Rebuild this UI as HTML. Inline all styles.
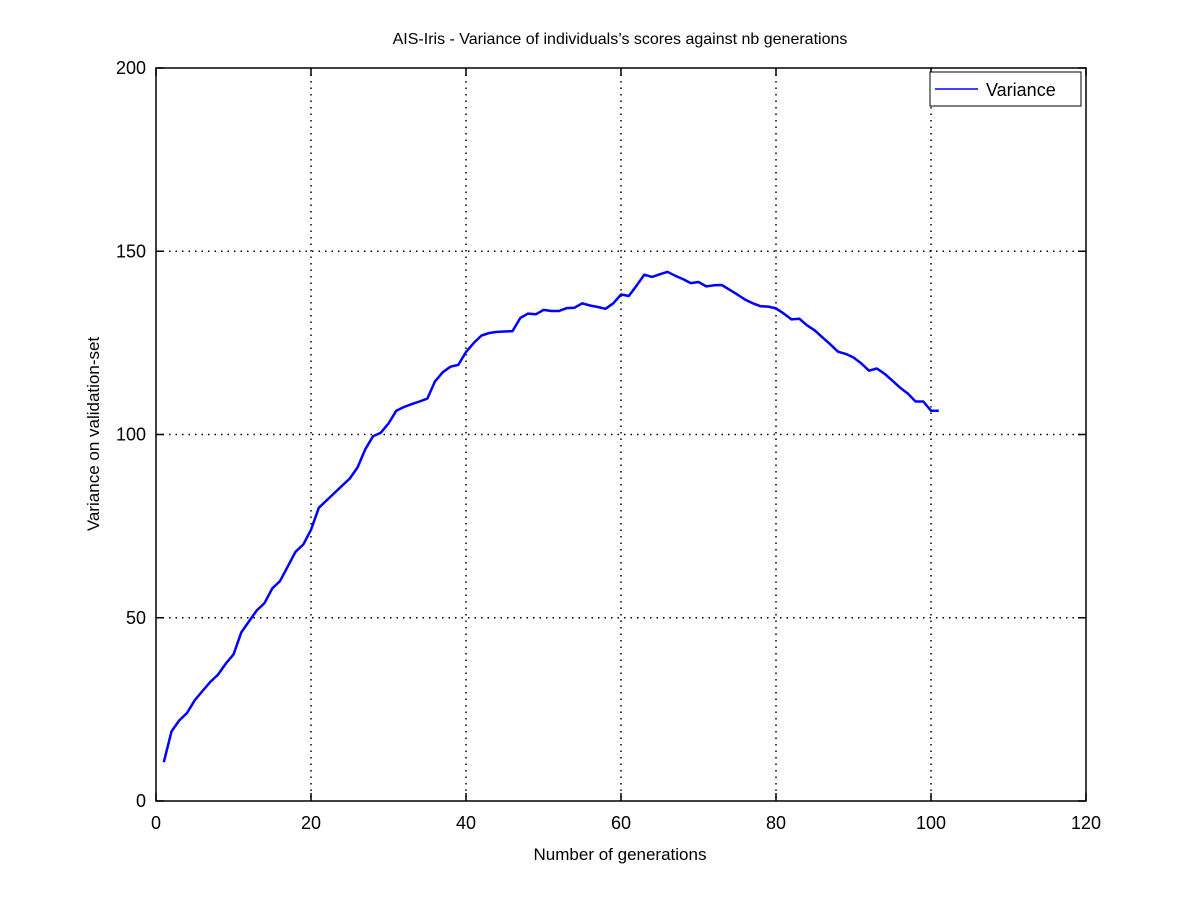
<!DOCTYPE html>
<html><head><meta charset="utf-8"><style>
body{margin:0;background:#fff;}
svg{display:block;font-family:"Liberation Sans",sans-serif;}
</style></head><body>
<svg id="chart" width="1200" height="900">
<rect x="0" y="0" width="1200" height="900" fill="#fff"/>
<text x="620" y="44" font-size="16" text-anchor="middle">AIS-Iris - Variance of individuals’s scores against nb generations</text>
<g id="grid"></g>
<g id="ticks"></g>
<path id="line" fill="none" stroke="#0000ff" stroke-width="2.5" stroke-linejoin="round"/>
<rect x="156" y="68" width="930" height="733" fill="none" stroke="#000" stroke-width="1.5"/>
<text x="620" y="860" font-size="17" text-anchor="middle">Number of generations</text>
<text x="0" y="0" font-size="17" text-anchor="middle" transform="translate(99,434) rotate(-90)">Variance on validation-set</text>
<g>
<rect x="930" y="72" width="151" height="34" fill="#fff" stroke="#000" stroke-width="1"/>
<line x1="935" y1="89" x2="978" y2="89" stroke="#0000ff" stroke-width="1.5"/>
<text x="986" y="96" font-size="18">Variance</text>
</g>
</svg>
<script>
const xTicks=[0,20,40,60,80,100,120];
const yTicks=[0,50,100,150,200];
const generations=[];for(let i=1;i<=101;i++)generations.push(i);
const variance=[10.6,19,22,24,27.5,30,32.5,34.5,37.5,40,46,49,52,54,58,60,64,68,70,74,80,82,84,86,88,91,96,99.5,100.5,103,106.5,107.5,108.3,109,109.8,114.5,117,118.5,119,122.5,125,127,127.7,128,128.1,128.2,131.8,133,132.8,134,133.7,133.7,134.5,134.6,135.8,135.2,134.8,134.3,135.8,138.2,137.8,140.6,143.6,143,143.7,144.4,143.3,142.4,141.3,141.6,140.4,140.7,140.8,139.5,138.2,136.8,135.8,135,134.9,134.4,133,131.4,131.6,129.8,128.4,126.5,124.6,122.6,122,121,119.4,117.4,118,116.6,114.7,112.8,111.2,109,109,106.5,106.5];
const X0=156,X1=1086,Y0=801,Y1=68;
const sx=v=>X0+(v-0)/120*(X1-X0);
const sy=v=>Y0-(v-0)/200*(Y0-Y1);
const NS="http://www.w3.org/2000/svg";
const grid=document.getElementById('grid'),ticks=document.getElementById('ticks');
function mk(tag,attrs,parent){const e=document.createElementNS(NS,tag);for(const k in attrs)e.setAttribute(k,attrs[k]);parent.appendChild(e);return e;}
xTicks.forEach(t=>{
  const x=sx(t);
  if(t>0&&t<120){const g=mk('line',{x1:x,y1:Y1,x2:x,y2:Y0,stroke:'#000','stroke-width':1.5,'stroke-dasharray':'1.5,5'},grid);
  
  }
  mk('line',{x1:x,y1:Y0,x2:x,y2:Y0-8,stroke:'#000','stroke-width':1.5},ticks);
  mk('line',{x1:x,y1:Y1,x2:x,y2:Y1+8,stroke:'#000','stroke-width':1.5},ticks);
  const l=mk('text',{x:x,y:Y0+28,'font-size':18,'text-anchor':'middle'},ticks);l.textContent=t;
  
  
});
yTicks.forEach(t=>{
  const y=sy(t);
  if(t>0&&t<200){const g=mk('line',{x1:X0,y1:y,x2:X1,y2:y,stroke:'#000','stroke-width':1.5,'stroke-dasharray':'1.5,5'},grid);
  
  }
  mk('line',{x1:X0,y1:y,x2:X0+8,y2:y,stroke:'#000','stroke-width':1.5},ticks);
  mk('line',{x1:X1,y1:y,x2:X1-8,y2:y,stroke:'#000','stroke-width':1.5},ticks);
  const l=mk('text',{x:X0-10,y:y+6,'font-size':18,'text-anchor':'end'},ticks);l.textContent=t;
  
  
});
document.getElementById('line').setAttribute('d',variance.map((v,i)=>(i?'L':'M')+sx(generations[i]).toFixed(1)+','+sy(v).toFixed(1)).join(''));
</script>
</body></html>
